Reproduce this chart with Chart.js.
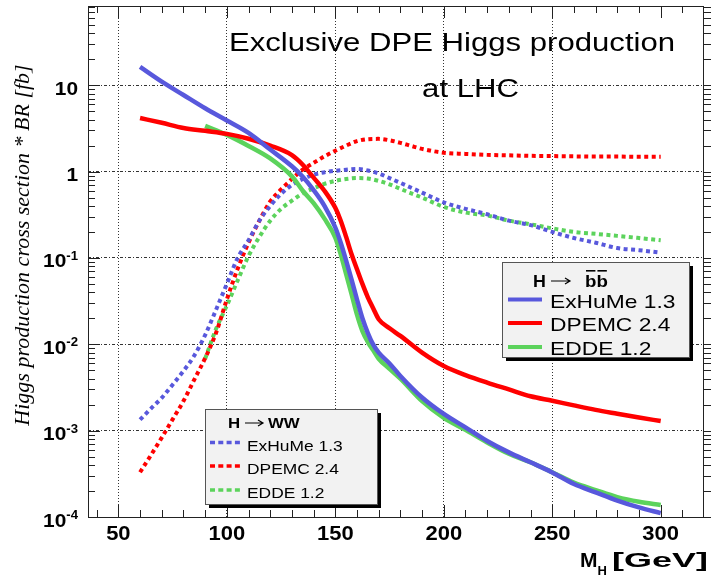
<!DOCTYPE html>
<html>
<head>
<meta charset="utf-8">
<title>Exclusive DPE Higgs production</title>
<script src="https://cdn.jsdelivr.net/npm/chart.js@4.4.0/dist/chart.umd.min.js"></script>
<style>
  html, body { margin: 0; padding: 0; background: #fff; }
  canvas { display: block; }
</style>
</head>
<body>
<canvas id="higgs" width="711" height="580"></canvas>
<script>
// Higgs masses (GeV)
const massBB = [60, 70, 80, 90, 100, 110, 120, 130, 135, 140, 145, 150, 152.5, 155, 157.5, 160, 162.5, 165, 167.5, 170,
  175, 180, 190, 200, 210, 220, 230, 240, 250, 260, 270, 280, 290, 300];
const massWW = [60, 65, 70, 75, 80, 85, 90, 95, 100, 105, 110, 115, 120, 125, 130, 135, 140, 145, 150, 155, 160, 165,
  170, 175, 180, 185, 190, 200, 210, 220, 230, 240, 250, 260, 270, 280, 290, 300];

// cross section * BR [fb], H -> bb
const exhumeBB = [16.3, 11.0, 7.7, 5.4, 3.9, 2.8, 1.8, 1.15, 0.87, 0.61, 0.40, 0.225, 0.15, 0.093, 0.056, 0.033, 0.020,
  0.0135, 0.0099, 0.0080, 0.0060, 0.0043, 0.00242, 0.00156, 0.00109, 0.00076, 0.00056, 0.00043, 0.000328, 0.000241,
  0.000193, 0.000155, 0.000129, 0.000111];
const dpemcBB = [4.17, 3.67, 3.2, 2.96, 2.73, 2.4, 2.0, 1.55, 1.2, 0.85, 0.6, 0.38, 0.27, 0.175, 0.11, 0.074, 0.05,
  0.035, 0.026, 0.0195, 0.0153, 0.0125, 0.008, 0.0056, 0.0044, 0.0036, 0.003, 0.0025, 0.00222, 0.00196, 0.00174,
  0.00157, 0.00142, 0.00129];
const eddeBB = [null, null, null, 3.38, 2.66, 1.98, 1.42, 0.88, 0.6, 0.43, 0.285, 0.172, 0.11, 0.065, 0.038, 0.022,
  0.0142, 0.0106, 0.0085, 0.0068, 0.0052, 0.0040, 0.0022, 0.00141, 0.00102, 0.00073, 0.00054, 0.00043, 0.00033,
  0.00025, 0.000205, 0.00017, 0.00015, 0.000138];

// cross section * BR [fb], H -> WW
const exhumeWW = [0.00134, 0.0018, 0.0024, 0.0034, 0.0049, 0.0074, 0.0128, 0.025, 0.05, 0.1, 0.16, 0.27, 0.4, 0.55,
  0.7, 0.82, 0.92, 0.98, 1.02, 1.05, 1.07, 1.03, 0.95, 0.84, 0.74, 0.65, 0.57, 0.44, 0.37, 0.32, 0.27, 0.24, 0.2,
  0.17, 0.15, 0.13, 0.123, 0.115];
const dpemcWW = [0.00033, 0.00052, 0.00083, 0.00135, 0.0022, 0.0039, 0.0069, 0.0135, 0.033, 0.075, 0.15, 0.27, 0.45,
  0.62, 0.82, 1.05, 1.26, 1.5, 1.74, 2.0, 2.25, 2.37, 2.39, 2.3, 2.15, 1.98, 1.83, 1.65, 1.6, 1.56, 1.54, 1.52, 1.51,
  1.5, 1.49, 1.49, 1.48, 1.48];
const eddeWW = [null, null, null, null, null, null, 0.0068, 0.015, 0.028, 0.055, 0.105, 0.175, 0.27, 0.37, 0.46, 0.56,
  0.64, 0.72, 0.78, 0.82, 0.84, 0.83, 0.78, 0.71, 0.63, 0.56, 0.5, 0.39, 0.335, 0.31, 0.27, 0.245, 0.22, 0.2, 0.19,
  0.18, 0.17, 0.16];

const generators = ['ExHuMe 1.3', 'DPEMC 2.4', 'EDDE 1.2'];
const xTickLabels = [50, 100, 150, 200, 250, 300];
const yDecades = [-4, -3, -2, -1, 0, 1];
const titleLines = ['Exclusive DPE Higgs production', 'at LHC'];

const BLUE = '#5858dc';
const RED = '#ff0000';
const GREEN = '#5cd35c';
const SANS = "'Liberation Sans', Arial, sans-serif";
const SERIF = "'Liberation Serif', 'Times New Roman', serif";

const toPoints = (xs, ys) => xs.map((x, i) => ({x: x, y: ys[i]})).filter(p => p.y !== null);

const curve = (label, xs, ys, color, dotted) => ({
  label: label,
  data: toPoints(xs, ys),
  borderColor: color,
  borderWidth: dotted ? 4 : 4.5,
  borderDash: dotted ? [4, 3.5] : [],
  pointRadius: 0,
  fill: false,
  cubicInterpolationMode: 'monotone'
});

// text with horizontal stretch, returns drawn width
function txt(ctx, s, x, y, font, sx, align) {
  ctx.save();
  ctx.font = font;
  ctx.fillStyle = '#000';
  ctx.textAlign = align || 'left';
  ctx.textBaseline = 'alphabetic';
  const w = ctx.measureText(s).width * sx;
  ctx.translate(x, y);
  ctx.scale(sx, 1);
  ctx.fillText(s, 0, 0);
  ctx.restore();
  return w;
}

// thin right arrow for the decay headers
function arrow(ctx, x0, x1, y) {
  ctx.save();
  ctx.strokeStyle = '#000';
  ctx.lineWidth = 1.2;
  ctx.setLineDash([]);
  ctx.beginPath();
  ctx.moveTo(x0, y);
  ctx.lineTo(x1, y);
  ctx.moveTo(x1 - 5, y - 3);
  ctx.lineTo(x1, y);
  ctx.lineTo(x1 - 5, y + 3);
  ctx.stroke();
  ctx.restore();
}

function legendBox(ctx, x, y, w, h) {
  ctx.fillStyle = '#000';
  ctx.fillRect(x + 4, y + 4, w, h);
  ctx.fillStyle = '#f2f2f2';
  ctx.fillRect(x, y, w, h);
  ctx.strokeStyle = '#555';
  ctx.lineWidth = 1;
  ctx.setLineDash([]);
  ctx.strokeRect(x + 0.5, y + 0.5, w, h);
}

function legendEntries(ctx, colors, x0, x1, tx, baselines, font, sx, width, dash) {
  colors.forEach((c, i) => {
    const ly = baselines[i] - 8;
    ctx.beginPath();
    ctx.strokeStyle = c;
    ctx.lineWidth = width;
    ctx.setLineDash(dash);
    ctx.moveTo(x0, ly);
    ctx.lineTo(x1, ly);
    ctx.stroke();
    txt(ctx, generators[i], tx, baselines[i], font, sx);
  });
  ctx.setLineDash([]);
}

const rootFrame = {
  id: 'rootFrame',
  afterDraw(chart) {
    const {ctx, chartArea: a, scales} = chart;
    const xs = scales.x, ys = scales.y;
    ctx.save();

    // frame and tick marks
    ctx.strokeStyle = '#222';
    ctx.lineWidth = 1;
    ctx.setLineDash([]);
    ctx.strokeRect(a.left + 0.5, a.top + 0.5, a.right - a.left, a.bottom - a.top);
    ctx.beginPath();
    for (let v = 40; v <= 310; v += 10) {
      const px = Math.round(xs.getPixelForValue(v)) + 0.5;
      const len = v % 50 === 0 ? 12 : 7;
      ctx.moveTo(px, a.bottom);
      ctx.lineTo(px, a.bottom - len);
      ctx.moveTo(px, a.top);
      ctx.lineTo(px, a.top + len);
    }
    yDecades.forEach(e => {
      for (let k = 1; k <= 9; k++) {
        const v = k * Math.pow(10, e);
        if (v > ys.max) break;
        const py = Math.round(ys.getPixelForValue(v)) + 0.5;
        const len = k === 1 ? 12 : 7;
        ctx.moveTo(a.left, py);
        ctx.lineTo(a.left + len, py);
        ctx.moveTo(a.right, py);
        ctx.lineTo(a.right + 8, py);
      }
    });
    ctx.stroke();

    // x tick labels
    xTickLabels.forEach(v => {
      txt(ctx, String(v), xs.getPixelForValue(v), a.bottom + 23, 'bold 20px ' + SANS, 1.1, 'center');
    });

    // y tick labels, 10^n with raised exponent
    const rx = a.left - 10;
    yDecades.forEach(e => {
      const py = ys.getPixelForValue(Math.pow(10, e));
      if (e === 0 || e === 1) {
        txt(ctx, e === 0 ? '1' : '10', rx, py + 9.5, 'bold 19px ' + SANS, 1.1, 'right');
      } else {
        ctx.font = 'bold 12px ' + SANS;
        const supW = ctx.measureText(String(e)).width * 1.1;
        txt(ctx, String(e), rx - supW, py + 2, 'bold 12px ' + SANS, 1.1);
        txt(ctx, '10', rx - supW, py + 9.5, 'bold 19px ' + SANS, 1.1, 'right');
      }
    });

    // title
    txt(ctx, titleLines[0], 452, 51, '25.5px ' + SANS, 1.22, 'center');
    txt(ctx, titleLines[1], 470.5, 96.5, '25.5px ' + SANS, 1.22, 'center');

    // axis titles
    ctx.save();
    ctx.translate(29, 245);
    ctx.rotate(-Math.PI / 2);
    ctx.font = 'italic 22px ' + SERIF;
    ctx.fillStyle = '#000';
    ctx.textAlign = 'center';
    ctx.fillText('Higgs production cross section * BR [fb]', 0, 0);
    ctx.restore();

    let mx = 580;
    mx += txt(ctx, 'M', mx, 566.5, 'bold 21px ' + SANS, 1.0);
    txt(ctx, 'H', mx, 575, 'bold 13px ' + SANS, 1.0);
    ctx.font = 'bold 21px ' + SANS;
    const gev = '[GeV]';
    txt(ctx, gev, 612, 566.5, 'bold 21px ' + SANS, 96 / ctx.measureText(gev).width);

    // H -> bb legend
    legendBox(ctx, 502, 262, 187, 95);
    txt(ctx, 'H', 533, 287, 'bold 17px ' + SANS, 1.05);
    arrow(ctx, 551, 570, 281);
    const bw = txt(ctx, 'b', 585, 287, 'bold 17px ' + SANS, 1.1);
    txt(ctx, 'b', 585 + bw, 287, 'bold 17px ' + SANS, 1.1);
    ctx.fillStyle = '#000';
    ctx.fillRect(586, 270, bw - 2, 1.6);
    ctx.fillRect(586 + bw, 270, bw - 2, 1.6);
    legendEntries(ctx, [BLUE, RED, GREEN], 508, 542, 550, [307.5, 331, 355], '19px ' + SANS, 1.2, 4, []);

    // H -> WW legend
    legendBox(ctx, 205, 409, 172, 95);
    txt(ctx, 'H', 228, 427.5, 'bold 14px ' + SANS, 1.2);
    arrow(ctx, 245, 263, 423);
    txt(ctx, 'WW', 268, 427.5, 'bold 14px ' + SANS, 1.2);
    legendEntries(ctx, [BLUE, RED, GREEN], 210, 242, 247, [450.5, 474, 498], '15px ' + SANS, 1.16, 3.5, [5, 3.3]);

    ctx.restore();
  }
};

const isDecade = v => Math.abs(Math.log10(v) - Math.round(Math.log10(v))) < 1e-9;

new Chart(document.getElementById('higgs'), {
  type: 'line',
  data: {
    datasets: [
      curve(generators[0] + ' bb', massBB, exhumeBB, BLUE, false),
      curve(generators[1] + ' bb', massBB, dpemcBB, RED, false),
      curve(generators[2] + ' bb', massBB, eddeBB, GREEN, false),
      curve(generators[0] + ' WW', massWW, exhumeWW, BLUE, true),
      curve(generators[1] + ' WW', massWW, dpemcWW, RED, true),
      curve(generators[2] + ' WW', massWW, eddeWW, GREEN, true)
    ]
  },
  options: {
    responsive: false,
    animation: false,
    devicePixelRatio: 1,
    layout: {padding: {left: 88, top: 6, right: 8, bottom: 63}},
    plugins: {legend: {display: false}, tooltip: {enabled: false}},
    scales: {
      x: {
        type: 'linear',
        min: 36,
        max: 319.5,
        ticks: {display: false, stepSize: 50},
        grid: {
          drawTicks: false,
          lineWidth: 1,
          color: c => (c.tick && c.tick.value % 50 === 0) ? '#333' : 'rgba(0,0,0,0)'
        },
        border: {display: false, dash: [1, 2]}
      },
      y: {
        type: 'logarithmic',
        min: 1e-4,
        max: 82.6,
        ticks: {display: false},
        grid: {
          drawTicks: false,
          lineWidth: 1,
          color: c => (c.tick && isDecade(c.tick.value)) ? '#333' : 'rgba(0,0,0,0)'
        },
        border: {display: false, dash: [3, 2, 1, 2]}
      }
    }
  },
  plugins: [rootFrame]
});
</script>
</body>
</html>
